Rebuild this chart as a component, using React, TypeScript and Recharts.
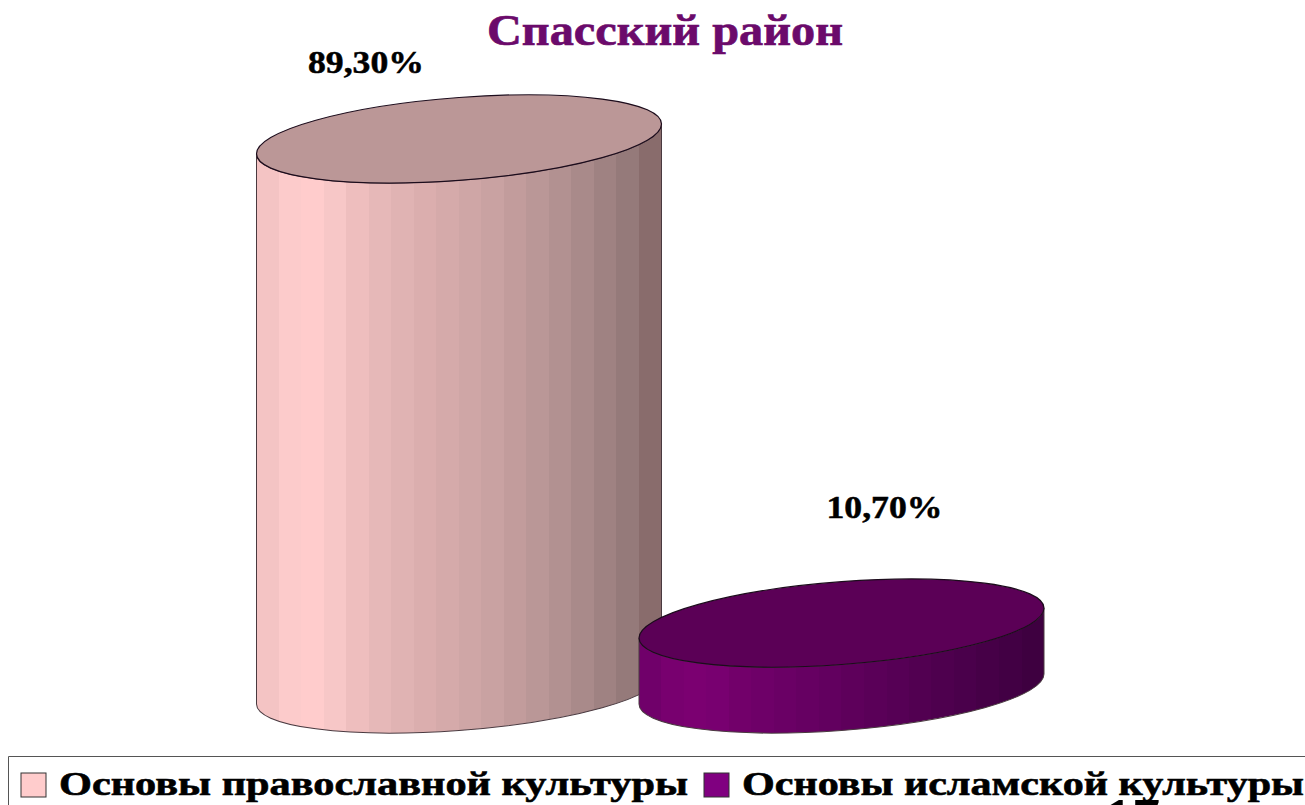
import { BarChart, Bar, XAxis, YAxis, LabelList, Legend } from "recharts";

const categories = ["Основы православной культуры", "Основы исламской культуры"];
const values = [89.3, 10.7];
const valueLabels = ["89,30%", "10,70%"];

const pinkBands = [
  "#f4c4c4", "#fccbcb", "#ffcccc", "#f7c7c7", "#eebebe", "#e6b8b8", "#e0b3b3", "#dbaeae", "#d5aaaa",
  "#cfa6a6", "#c9a2a2", "#c29c9c", "#ba9797", "#b29191", "#a98a8a", "#9f8282", "#957a7a", "#896c6c",
];
const purpleBands = [
  "#70006a", "#78006f", "#7b0071", "#780070", "#72006a", "#6e0068", "#6a0065", "#660062", "#62005f",
  "#5e005b", "#5a0058", "#560055", "#520051", "#4e004e", "#4a004b", "#460047", "#420044", "#3e0040",
];
const topColors = ["#bb9797", "#5b0056"];
const swatchColors = ["#ffcccc", "#800080"];
const bandSets = [pinkBands, purpleBands];

const RX = 202.5;
const RY = 41.4;
const SHEAR = -0.074;
const labelShiftX = [-93, 43];
const labelShiftY = [-66, -105];

function Cylinder(props: any) {
  const { x, y, width, height, index } = props;
  const cx = x + width / 2;
  const bottom = y + height;
  const side = `M${-RX},${y} L${-RX},${bottom} A${RX},${RY} 0 0 0 ${RX},${bottom} L${RX},${y} A${RX},${RY} 0 0 1 ${-RX},${y} Z`;
  return (
    <g transform={`matrix(1,${SHEAR},0,1,${cx},0)`}>
      <path d={side} fill={`url(#bands${index})`} stroke="#4a3a40" strokeWidth={1} />
      <ellipse cx={0} cy={y} rx={RX} ry={RY} fill={topColors[index]} stroke="#1c0c1c" strokeWidth={1.2} />
    </g>
  );
}

function ValueLabel(props: any) {
  const { x, y, width, index } = props;
  return (
    <text
      x={x + width / 2 + labelShiftX[index]}
      y={y + labelShiftY[index]}
      textAnchor="middle"
      fontFamily="'Liberation Serif', serif"
      fontWeight="bold"
      fontSize={32}
      textLength={116}
      lengthAdjust="spacingAndGlyphs"
      stroke="#000"
      strokeWidth={0.5}
      fill="#000"
    >
      {valueLabels[index]}
    </text>
  );
}

function LegendBox() {
  const textStyle = {
    fontFamily: "'Liberation Serif', serif",
    fontWeight: "bold" as const,
    fontSize: 34,
    fill: "#000",
    stroke: "#000",
    strokeWidth: 0.6,
  };
  return (
    <svg width={1305} height={49} style={{ display: "block" }}>
      <path d="M8.5,49 L8.5,0.5 L1305,0.5" fill="none" stroke="#555" strokeWidth={1} />
      <rect x={21} y={17} width={25} height={24} fill={swatchColors[0]} stroke="#333" />
      <text x={59} y={39} textLength={629} lengthAdjust="spacingAndGlyphs" {...textStyle}>
        {categories[0]}
      </text>
      <rect x={704} y={17} width={25} height={24} fill={swatchColors[1]} stroke="#333" />
      <text x={742} y={39} textLength={562} lengthAdjust="spacingAndGlyphs" {...textStyle}>
        {categories[1]}
      </text>
    </svg>
  );
}

const tableData = categories.map((name, i) => ({ name, value: values[i] }));

export default function App() {
  return (
    <div style={{ position: "absolute", left: 0, top: 0, width: 1305, height: 805, background: "#fff", overflow: "hidden" }}>
      <BarChart
        width={1305}
        height={805}
        data={tableData}
        margin={{ top: 73, right: 272, bottom: 67, left: 268 }}
        barSize={300}
      >
        <defs>
          {bandSets.map((bands, k) => (
            <linearGradient id={`bands${k}`} key={k} x1="0" y1="0" x2="1" y2="0">
              {bands.flatMap((c, i) => [
                <stop key={`${i}a`} offset={i / bands.length} stopColor={c} />,
                <stop key={`${i}b`} offset={(i + 1) / bands.length} stopColor={c} />,
              ])}
            </linearGradient>
          ))}
        </defs>
        <text
          x={665}
          y={45}
          textAnchor="middle"
          fontFamily="'Liberation Serif', serif"
          fontWeight="bold"
          fontSize={45}
          textLength={356}
          lengthAdjust="spacingAndGlyphs"
          stroke="#6b0a6b"
          strokeWidth={0.7}
          fill="#6b0a6b"
        >
          Спасский район
        </text>
        <XAxis dataKey="name" hide />
        <YAxis domain={[0, 100]} hide />
        <Bar dataKey="value" isAnimationActive={false} shape={<Cylinder />}>
          <LabelList dataKey="value" content={<ValueLabel />} />
        </Bar>
        <Legend
          verticalAlign="bottom"
          content={<LegendBox />}
          wrapperStyle={{ left: 0, bottom: 0, width: 1305, height: 49 }}
        />
        <text
          x={1132}
          y={838}
          textAnchor="middle"
          fontFamily="'Liberation Serif', serif"
          fontWeight="bold"
          fontSize={56}
          fill="#000"
        >
          17
        </text>
      </BarChart>
    </div>
  );
}
